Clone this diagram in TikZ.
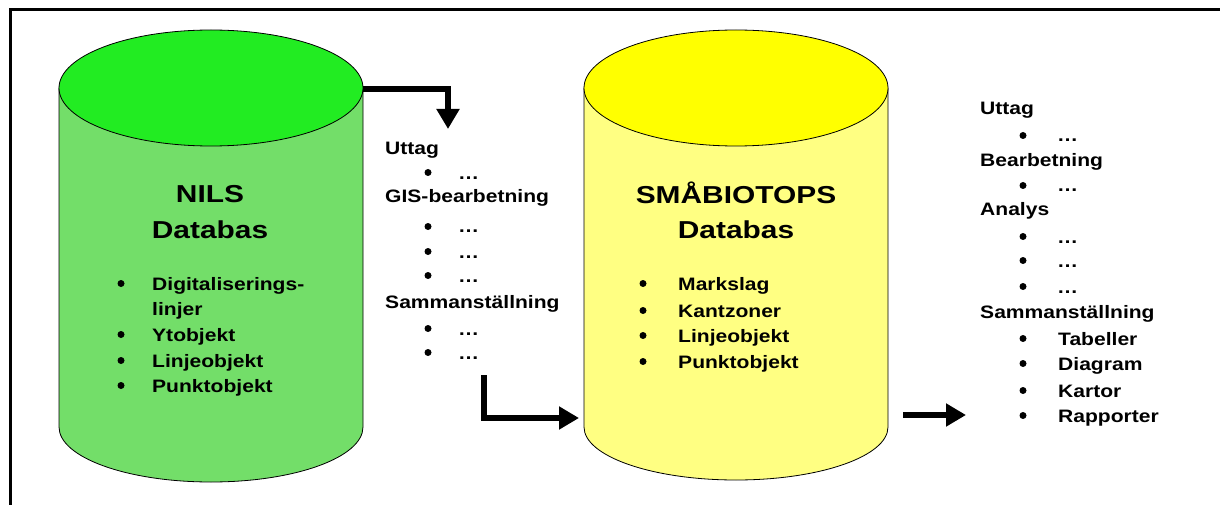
\documentclass[tikz,border=0pt]{standalone}
\usepackage{fontspec}
\setmainfont{Liberation Sans}[FakeStretch=1.17]
\newfontfamily\headfont{Liberation Sans}[FakeStretch=1.22]
\usetikzlibrary{arrows.meta}
\definecolor{gtop}{RGB}{34,236,34}
\definecolor{gbody}{RGB}{115,222,105}
\definecolor{ytop}{RGB}{255,255,0}
\definecolor{ybody}{RGB}{255,255,130}
\begin{document}
\begin{tikzpicture}[x=1pt,y=-1pt,
  item/.style={anchor=base west, inner sep=0pt, font=\fontsize{18}{20}\selectfont\bfseries},
  bul/.style={circle, fill=black, inner sep=0pt, minimum size=7pt, yshift=6.5pt},
  head/.style={anchor=base, inner sep=0pt, font=\headfont\fontsize{24.5}{30}\selectfont\bfseries},
  flow/.style={line width=6pt, -{Triangle[width=22pt,length=20pt]}},
  cyl/.style={draw=black, line width=0.8pt}]
\useasboundingbox (0,0) rectangle (1220,505);
\fill[white] (0,0) rectangle (1220,505);
% frame
\draw[line width=3pt] (1225,10) -- (10,10) -- (10,510);

% NILS cylinder
\path[cyl, fill=gbody] (59,88) -- (59,427) arc[start angle=180, end angle=360, x radius=152pt, y radius=55pt] -- (363,88) -- cycle;
\path[cyl, fill=gtop] (211,88) ellipse[x radius=152pt, y radius=58pt];
% SMABIOTOPS cylinder
\path[cyl, fill=ybody] (584,88) -- (584,427) arc[start angle=180, end angle=360, x radius=152pt, y radius=53pt] -- (888,88) -- cycle;
\path[cyl, fill=ytop] (736,88) ellipse[x radius=152pt, y radius=58pt];

\coordinate (nilsR) at (363,89);
\coordinate (a1) at (448,129);
\coordinate (a2s) at (484,375);
\coordinate (a2e) at (579,418);
\coordinate (a3s) at (903,415);
\coordinate (a3e) at (966,415);

% NILS text
\node[head] (nh1) at (210,203) {NILS};
\node[head] (nh2) at (210,238) {Databas};
\node[bul] (nb1) at (121,290) {};
\node[item] (ni1) at (152,290) {Digitaliserings-};
\node[item] (ni1b) at (152,315) {linjer};
\node[bul] (nb2) at (121,341) {};
\node[item] (ni2) at (152,341) {Ytobjekt};
\node[bul] (nb3) at (121,367) {};
\node[item] (ni3) at (152,367) {Linjeobjekt};
\node[bul] (nb4) at (121,392) {};
\node[item] (ni4) at (152,392) {Punktobjekt};

% SMABIOTOPS text
\node[head] (sh1) at (736,204) {SMÅBIOTOPS};
\node[head] (sh2) at (736,238) {Databas};
\node[bul] (sb1) at (643,290) {};
\node[item] (si1) at (678,290) {Markslag};
\node[bul] (sb2) at (643,317) {};
\node[item] (si2) at (678,317) {Kantzoner};
\node[bul] (sb3) at (643,342) {};
\node[item] (si3) at (678,342) {Linjeobjekt};
\node[bul] (sb4) at (643,368) {};
\node[item] (si4) at (678,368) {Punktobjekt};

% middle list
\node[item] (m1) at (385,155) {Uttag};
\node[item] (m2) at (385,203) {GIS-bearbetning};
\node[item] (m3) at (385,308) {Sammanställning};
\foreach \y [count=\i] in {179,233,258,282,335,359}{
  \node[bul] (mb\i) at (428,\y) {};
  \node[item] (md\i) at (458,\y) {…};
}

% right list
\node[item] (r1) at (980,115) {Uttag};
\node[item] (r2) at (980,167) {Bearbetning};
\node[item] (r3) at (980,215) {Analys};
\node[item] (r4) at (980,318) {Sammanställning};
\foreach \y [count=\i] in {142,192,243,267,293}{
  \node[bul] (rb\i) at (1023,\y) {};
  \node[item] (rd\i) at (1057,\y) {…};
}
\node[bul] (rs1) at (1023,345) {};
\node[item] (rt1) at (1058,345) {Tabeller};
\node[bul] (rs2) at (1023,370) {};
\node[item] (rt2) at (1058,370) {Diagram};
\node[bul] (rs3) at (1023,397) {};
\node[item] (rt3) at (1058,397) {Kartor};
\node[bul] (rs4) at (1023,422) {};
\node[item] (rt4) at (1058,422) {Rapporter};

% arrows
\draw[flow] (nilsR) -| (a1);
\draw[flow] (a2s) |- (a2e);
\draw[flow] (a3s) -- (a3e);
\end{tikzpicture}
\end{document}
